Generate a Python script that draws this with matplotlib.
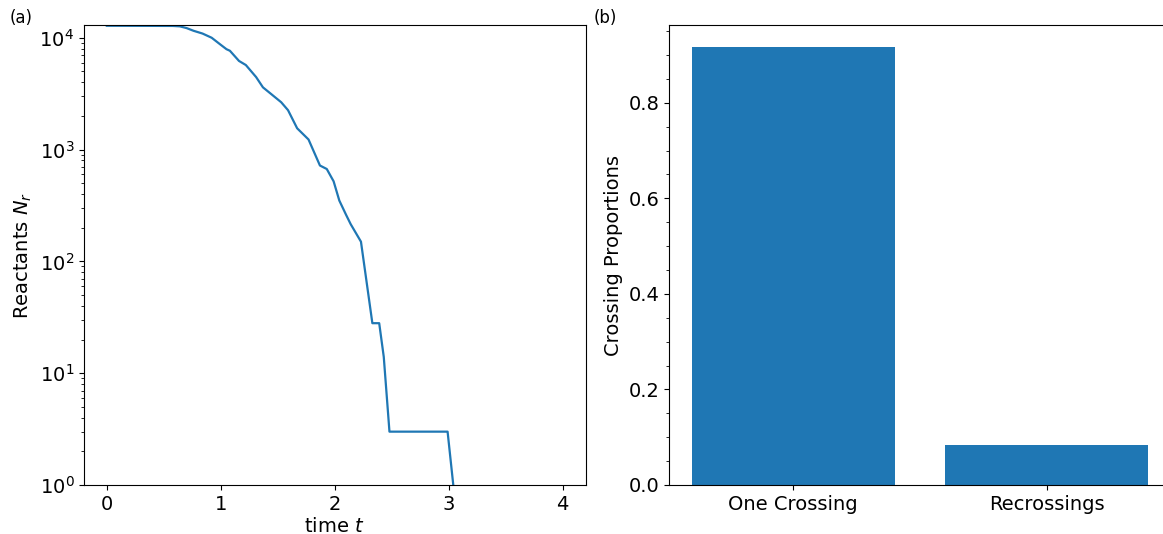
import numpy as np
import matplotlib
matplotlib.use('Agg')
import matplotlib.pyplot as plt
from matplotlib.ticker import AutoMinorLocator

# reactant population vs time
t = [0.0, 0.58, 0.64, 0.70, 0.76, 0.84, 0.92, 0.99, 1.05, 1.08, 1.16, 1.22,
     1.31, 1.37, 1.44, 1.53, 1.59, 1.67, 1.77, 1.87, 1.93, 1.99, 2.04, 2.10,
     2.14, 2.23, 2.33, 2.39, 2.43, 2.48, 2.99, 3.04]
n_reactants = [12800, 12750, 12650, 12200, 11550, 10900, 10000, 8800, 7900, 7650,
               6200, 5700, 4450, 3600, 3150, 2650, 2250, 1550, 1230, 720, 670,
               520, 350, 260, 215, 150, 28, 28, 14, 3, 3, 1]

categories = ['One Crossing', 'Recrossings']
proportions = [0.917, 0.083]

fs = 14
fig = plt.figure(figsize=(11.63, 5.34), dpi=100)
W, H = 1163, 534

ax1 = fig.add_axes([84 / W, 49 / H, 501.5 / W, 460 / H])
ax1.plot(t, n_reactants, color='#1f77b4', lw=1.6)
ax1.set_yscale('log')
ax1.set_ylim(1, 13000)
ax1.set_xlim(-0.2, 4.2)
ax1.set_xticks([0, 1, 2, 3, 4])
ax1.set_xlabel('time $t$', fontsize=fs, labelpad=2)
ax1.set_ylabel('Reactants $N_r$', fontsize=fs)
ax1.tick_params(labelsize=fs)
fig.text(10 / W, 1 - 18 / H, '(a)', fontsize=12, va='center', ha='left')

ax2 = fig.add_axes([669 / W, 49 / H, 502 / W, 460 / H])
ax2.bar(categories, proportions, width=0.8, color='#1f77b4')
ax2.yaxis.set_minor_locator(AutoMinorLocator())
ax2.set_ylabel('Crossing Proportions', fontsize=fs)
ax2.tick_params(labelsize=fs)
fig.text(594 / W, 1 - 18 / H, '(b)', fontsize=12, va='center', ha='left')

fig.savefig('out.png', dpi=100)
